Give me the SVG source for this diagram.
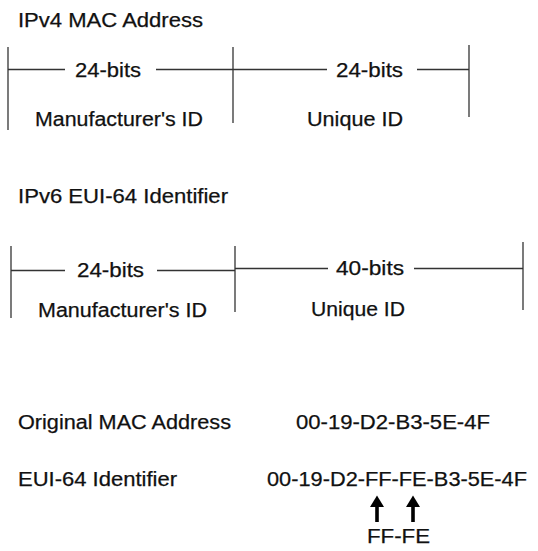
<svg xmlns="http://www.w3.org/2000/svg" width="538" height="551" viewBox="0 0 538 551">
<style>
text{font-family:"Liberation Sans",Arial,sans-serif;font-size:20px;fill:#111;stroke:#111;stroke-width:0.25;}
.ln{stroke:#333;stroke-width:1.3;fill:none;}
.arr{fill:#000;}
</style>
<rect width="538" height="551" fill="#fff"/>
<g id="ipv4">
<text x="18" y="27" textLength="185" lengthAdjust="spacingAndGlyphs">IPv4 MAC Address</text>
<g id="ipv4-manufacturer">
<text x="75" y="77" textLength="66" lengthAdjust="spacingAndGlyphs">24-bits</text>
<text x="35" y="126" textLength="168" lengthAdjust="spacingAndGlyphs">Manufacturer's ID</text>
</g>
<g id="ipv4-unique">
<text x="336" y="77" textLength="67" lengthAdjust="spacingAndGlyphs">24-bits</text>
<text x="307" y="126" textLength="96" lengthAdjust="spacingAndGlyphs">Unique ID</text>
</g>
</g>
<g id="ipv6">
<text x="18" y="203" textLength="210" lengthAdjust="spacingAndGlyphs">IPv6 EUI-64 Identifier</text>
<g id="ipv6-manufacturer">
<text x="77" y="277" textLength="67" lengthAdjust="spacingAndGlyphs">24-bits</text>
<text x="38" y="317" textLength="169" lengthAdjust="spacingAndGlyphs">Manufacturer's ID</text>
</g>
<g id="ipv6-unique">
<text x="336" y="275" textLength="68" lengthAdjust="spacingAndGlyphs">40-bits</text>
<text x="311" y="316" textLength="94" lengthAdjust="spacingAndGlyphs">Unique ID</text>
</g>
</g>
<g id="conversion">
<text x="18" y="429" textLength="213" lengthAdjust="spacingAndGlyphs">Original MAC Address</text>
<text x="296" y="429" textLength="194" lengthAdjust="spacingAndGlyphs">00-19-D2-B3-5E-4F</text>
<text x="18" y="486" textLength="159" lengthAdjust="spacingAndGlyphs">EUI-64 Identifier</text>
<text x="267" y="486" textLength="260" lengthAdjust="spacingAndGlyphs">00-19-D2-FF-FE-B3-5E-4F</text>
<text x="367" y="543" textLength="63" lengthAdjust="spacingAndGlyphs">FF-FE</text>
</g>
<g id="connectors">
<line class="ln" x1="8" y1="47" x2="8" y2="130"/>
<line class="ln" x1="8" y1="69.5" x2="65" y2="69.5"/>
<line class="ln" x1="156" y1="69.5" x2="327" y2="69.5"/>
<line class="ln" x1="233" y1="47" x2="233" y2="123"/>
<line class="ln" x1="417" y1="69.5" x2="469" y2="69.5"/>
<line class="ln" x1="469" y1="45" x2="469" y2="117"/>
<line class="ln" x1="11" y1="246" x2="11" y2="318"/>
<line class="ln" x1="11" y1="270.5" x2="65" y2="270.5"/>
<line class="ln" x1="157" y1="270.5" x2="235" y2="270.5"/>
<line class="ln" x1="235" y1="268.5" x2="328" y2="268.5"/>
<line class="ln" x1="235" y1="246" x2="235" y2="312"/>
<line class="ln" x1="414" y1="268.5" x2="523" y2="268.5"/>
<line class="ln" x1="523" y1="242" x2="523" y2="310"/>
<rect class="arr" x="375.2" y="503" width="3.6" height="19"/>
<polygon class="arr" points="377,495.5 384,507 370,507"/>
<rect class="arr" x="411.2" y="503" width="3.6" height="19"/>
<polygon class="arr" points="413,495.5 420,507 406,507"/>
</g>
</svg>
